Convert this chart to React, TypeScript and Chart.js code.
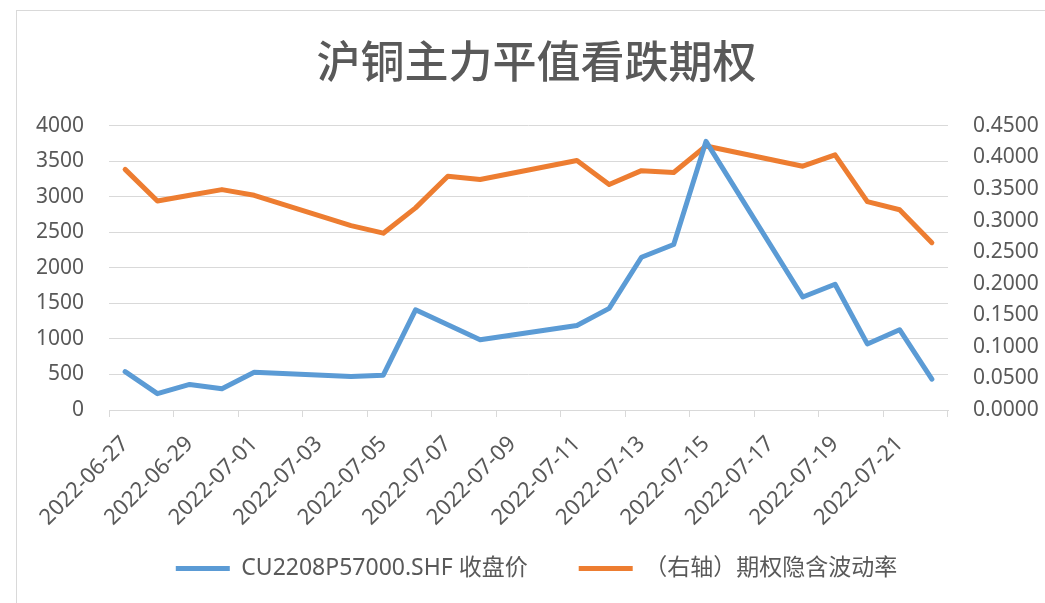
import React, { useEffect, useRef } from "react";
import { Chart, registerables } from "chart.js";

Chart.register(...registerables);

const TITLE = "沪铜主力平值看跌期权";
const SERIES_PRICE_LABEL = "CU2208P57000.SHF 收盘价";
const SERIES_IV_LABEL = "（右轴）期权隐含波动率";

const dates = [
  "2022-06-27", "2022-06-28", "2022-06-29", "2022-06-30", "2022-07-01",
  "2022-07-02", "2022-07-03", "2022-07-04", "2022-07-05", "2022-07-06",
  "2022-07-07", "2022-07-08", "2022-07-09", "2022-07-10", "2022-07-11",
  "2022-07-12", "2022-07-13", "2022-07-14", "2022-07-15", "2022-07-16",
  "2022-07-17", "2022-07-18", "2022-07-19", "2022-07-20", "2022-07-21",
  "2022-07-22",
];

// closing price (left axis); null = non-trading day
const closePrice = [
  540, 230, 360, 300, 530,
  null, null, 470, 490, 1410,
  1200, 990, null, null, 1190,
  1430, 2150, 2330, 3780, null,
  null, 1590, 1770, 930, 1130,
  435,
];

// implied volatility (right axis)
const impliedVol = [
  0.381, 0.331, 0.340, 0.349, 0.340,
  null, null, 0.292, 0.280, 0.320,
  0.370, 0.365, null, null, 0.395,
  0.357, 0.379, 0.376, 0.418, null,
  null, 0.386, 0.404, 0.330, 0.317,
  0.265,
];

const leftTicks = { min: 0, max: 4000, step: 500 };
const rightTicks = { min: 0, max: 0.45, step: 0.05 };

const GRAY = "#d9d9d9";
const TEXT = "#595959";
const BLUE = "#5b9bd5";
const ORANGE = "#ed7d31";
const FONT = "'Noto Sans', 'Noto Sans CJK SC', sans-serif";

export default function App() {
  const ref = useRef<HTMLCanvasElement | null>(null);

  useEffect(() => {
    if (!ref.current) return;
    const chart = new Chart(ref.current, {
      type: "line",
      data: {
        labels: dates,
        datasets: [
          {
            label: SERIES_PRICE_LABEL,
            data: closePrice,
            borderColor: BLUE,
            backgroundColor: BLUE,
            borderWidth: 5,
            borderCapStyle: "round",
            borderJoinStyle: "round",
            pointRadius: 0,
            tension: 0,
            spanGaps: true,
            yAxisID: "y",
          },
          {
            label: SERIES_IV_LABEL,
            data: impliedVol,
            borderColor: ORANGE,
            backgroundColor: ORANGE,
            borderWidth: 5,
            borderCapStyle: "round",
            borderJoinStyle: "round",
            pointRadius: 0,
            tension: 0,
            spanGaps: true,
            yAxisID: "y1",
          },
        ],
      },
      options: {
        animation: false,
        responsive: false,
        devicePixelRatio: 1,
        layout: { padding: { left: 28, right: 0, top: 10, bottom: 13 } },
        plugins: {
          title: {
            display: true,
            text: TITLE,
            color: TEXT,
            font: { family: "'Noto Sans CJK SC', sans-serif", size: 44, weight: "500", lineHeight: 1.2 },
            padding: { top: 25, bottom: 38 },
          },
          legend: {
            position: "bottom",
            labels: {
              color: TEXT,
              font: { family: FONT, size: 23 },
              usePointStyle: true,
              pointStyle: "line",
              pointStyleWidth: 54,
              padding: 51,
            },
          },
          tooltip: { enabled: false },
        },
        scales: {
          x: {
            type: "category",
            offset: true,
            grid: {
              offset: true,
              drawOnChartArea: false,
              drawTicks: true,
              tickLength: 7,
              color: (ctx: any) =>
                ctx.index === undefined || ctx.index % 2 === 0 ? GRAY : "rgba(0,0,0,0)",
            },
            border: { display: true, color: GRAY, width: 1 },
            ticks: {
              autoSkip: false,
              maxRotation: 45,
              minRotation: 45,
              padding: 14,
              labelOffset: 0,
              color: TEXT,
              font: { family: FONT, size: 22 },
              callback: (_v: any, i: number) => (i % 2 === 0 ? dates[i] : ""),
            },
            afterFit: (s: any) => {
              s.height = 96;
              // let the rotated labels extend below the fixed axis box
              s._computeLabelArea = () => undefined;
            },
          },
          y: {
            position: "left",
            min: leftTicks.min,
            max: leftTicks.max,
            grid: { color: GRAY, lineWidth: 1, drawTicks: false },
            border: { display: false },
            ticks: {
              stepSize: leftTicks.step,
              autoSkip: false,
              padding: 25,
              color: TEXT,
              font: { family: FONT, size: 21 },
              callback: (v: any) => String(v),
            },
            afterFit: (s: any) => {
              s.width = 81;
            },
          },
          y1: {
            position: "right",
            min: rightTicks.min,
            max: rightTicks.max,
            grid: { drawOnChartArea: false, drawTicks: false },
            border: { display: false },
            ticks: {
              stepSize: rightTicks.step,
              autoSkip: false,
              padding: 25,
              color: TEXT,
              font: { family: FONT, size: 21 },
              callback: (v: any) => Number(v).toFixed(4),
            },
            afterFit: (s: any) => {
              s.width = 97;
            },
          },
        },
      },
    });
    return () => chart.destroy();
  }, []);

  return (
    <div style={{ position: "fixed", left: 0, top: 0, width: 1045, height: 603, background: "#fff", overflow: "hidden" }}>
      <div
        style={{
          position: "absolute",
          left: 16,
          top: 10,
          width: 1100,
          height: 700,
          borderTop: `1px solid ${GRAY}`,
          borderLeft: `1px solid ${GRAY}`,
        }}
      />
      <canvas ref={ref} width={1045} height={603} style={{ position: "absolute", left: 0, top: 0 }} />
    </div>
  );
}
